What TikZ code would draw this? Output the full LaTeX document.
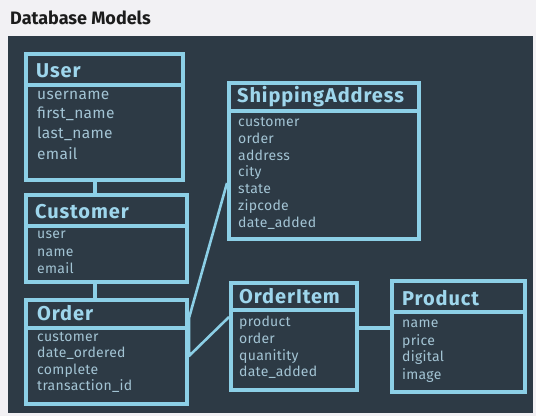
\documentclass[tikz,border=0pt]{standalone}
\usepackage{fontspec}
\setmainfont{Fira Sans}
\definecolor{pagebg}{HTML}{F2F1F4}
\definecolor{panel}{HTML}{2D3A45}
\definecolor{edge}{HTML}{8CCFE6}
\definecolor{ttlcol}{HTML}{9ED6EC}
\definecolor{fldcol}{HTML}{A3C4D4}
\definecolor{headcol}{HTML}{1C1C1C}
\tikzset{
  tbl/.style={draw=edge, line width=3.5pt, fill=panel, rectangle, inner sep=0pt, anchor=north west},
  divline/.style={draw=edge, line width=4pt},
  conn/.style={draw=edge, line width=3.2pt},
  ttl/.style={anchor=base west, inner sep=0pt, text=ttlcol, font=\fontsize{20}{22}\selectfont\bfseries\addfontfeatures{LetterSpace=4.5}},
  fld/.style={anchor=base west, inner sep=0pt, text=fldcol, font=\fontsize{14}{16}\selectfont\addfontfeatures{LetterSpace=2}},
  bigfld/.style={anchor=base west, inner sep=0pt, text=fldcol, font=\fontsize{15.5}{18}\selectfont\addfontfeatures{LetterSpace=2}}
}
\begin{document}
\begin{tikzpicture}[x=1pt,y=-1pt]
\useasboundingbox (0,0) rectangle (536,416);
\fill[pagebg] (0,0) rectangle (536,416);
\fill[panel] (8,36) rectangle (533,413);
\node[anchor=base west, inner sep=0pt, text=headcol, font=\fontsize{18}{20}\selectfont\bfseries] (heading) at (10,24) {Database Models};

% User
\node[tbl, minimum width=157pt, minimum height=126pt] (user) at (24,52) {};
\draw[divline] (user.west |- 0,85) -- (user.east |- 0,85);
\node[ttl] (user-t) at (36,77) {User};
\foreach \f/\y [count=\i] in {username/99, first\_name/118, last\_name/138, email/159}
  \node[bigfld] (user-f\i) at (37,\y) {\f};

% Customer
\node[tbl, minimum width=161pt, minimum height=87pt] (customer) at (24,193) {};
\draw[divline] (customer.west |- 0,226) -- (customer.east |- 0,226);
\node[ttl] (customer-t) at (35,218) {Customer};
\foreach \f/\y [count=\i] in {user/238, name/256, email/273}
  \node[fld] (customer-f\i) at (37,\y) {\f};

% Order
\node[tbl, minimum width=161pt, minimum height=104pt] (order) at (24,298) {};
\draw[divline] (order.west |- 0,328) -- (order.east |- 0,328);
\node[ttl] (order-t) at (37,320) {Order};
\foreach \f/\y [count=\i] in {customer/341, date\_ordered/357, complete/374, transaction\_id/390}
  \node[fld] (order-f\i) at (37,\y) {\f};

% ShippingAddress
\node[tbl, minimum width=190pt, minimum height=156pt] (ship) at (227,81) {};
\draw[divline] (ship.west |- 0,111) -- (ship.east |- 0,111);
\node[ttl] (ship-t) at (237,102) {ShippingAddress};
\foreach \f/\y [count=\i] in {customer/126, order/143, address/160, city/176, state/193, zipcode/210, date\_added/227}
  \node[fld] (ship-f\i) at (238,\y) {\f};

% OrderItem
\node[tbl, minimum width=126pt, minimum height=107pt] (orderitem) at (229,281) {};
\draw[divline] (orderitem.west |- 0,310) -- (orderitem.east |- 0,310);
\node[ttl] (orderitem-t) at (239,303) {OrderItem};
\foreach \f/\y [count=\i] in {product/326, order/343, quanitity/360, date\_added/376}
  \node[fld] (orderitem-f\i) at (239,\y) {\f};

% Product
\node[tbl, minimum width=133pt, minimum height=111pt] (product) at (390,279) {};
\draw[divline] (product.west |- 0,312) -- (product.east |- 0,312);
\node[ttl] (product-t) at (402,305) {Product};
\foreach \f/\y [count=\i] in {name/327, price/345, digital/361, image/379}
  \node[fld] (product-f\i) at (402,\y) {\f};

% connectors
\draw[conn] ([xshift=71pt]user.south west) -- ([xshift=71pt]customer.north west);
\draw[conn] ([xshift=71pt]customer.south west) -- ([xshift=71pt]order.north west);
\draw[conn] (orderitem.east |- 0,328) -- (product.west |- 0,328);
\coordinate (oa) at (189,318);
\coordinate (ob) at (189,356);
\draw[conn, line width=2.6pt, line join=round] (ship.west |- 0,183) -- (oa) -- (ob) -- (orderitem.west |- 0,317);
\end{tikzpicture}
\end{document}
